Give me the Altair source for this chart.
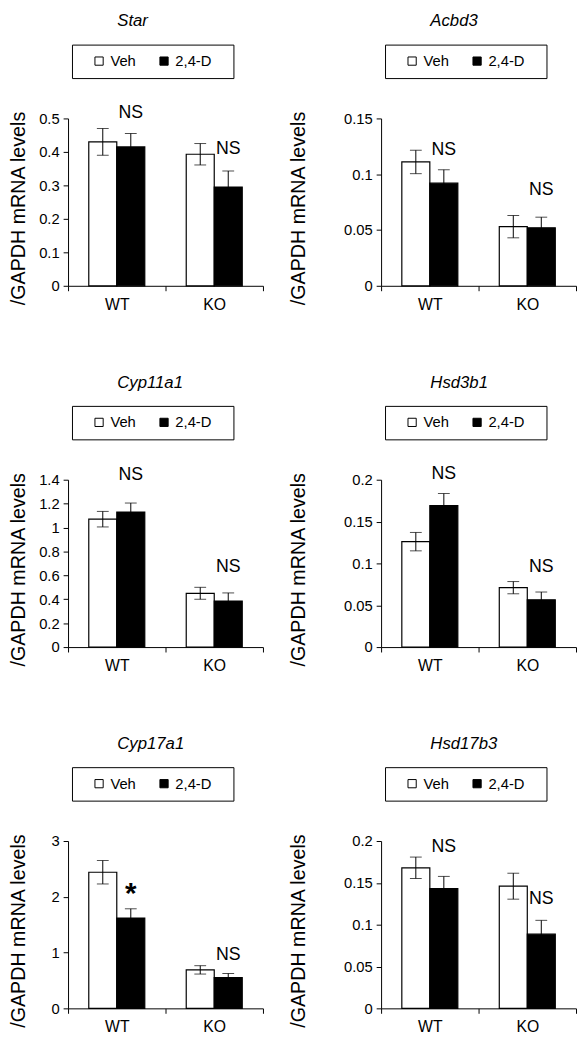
import altair as alt
import pandas as pd

FONT = "Liberation Sans"

genes = ["Star", "Acbd3", "Cyp11a1", "Hsd3b1", "Cyp17a1", "Hsd17b3"]
groups = ["WT", "KO"]
treatments = ["Veh", "2,4-D"]

# order of values: WT Veh, WT 2,4-D, KO Veh, KO 2,4-D
star_mean = [0.430, 0.415, 0.393, 0.295]
star_err = [0.040, 0.040, 0.032, 0.048]
acbd3_mean = [0.111, 0.092, 0.053, 0.052]
acbd3_err = [0.0105, 0.012, 0.010, 0.0095]
cyp11a1_mean = [1.07, 1.13, 0.45, 0.385]
cyp11a1_err = [0.065, 0.075, 0.050, 0.068]
hsd3b1_mean = [0.126, 0.169, 0.071, 0.0565]
hsd3b1_err = [0.011, 0.0145, 0.0073, 0.0093]
cyp17a1_mean = [2.44, 1.62, 0.69, 0.55]
cyp17a1_err = [0.21, 0.165, 0.075, 0.075]
hsd17b3_mean = [0.168, 0.143, 0.146, 0.0887]
hsd17b3_err = [0.0128, 0.0147, 0.0155, 0.0165]

means = [star_mean, acbd3_mean, cyp11a1_mean, hsd3b1_mean, cyp17a1_mean, hsd17b3_mean]
errs = [star_err, acbd3_err, cyp11a1_err, hsd3b1_err, cyp17a1_err, hsd17b3_err]

y_max = [0.5, 0.15, 1.4, 0.2, 3, 0.2]
y_ticks = [
    [0, 0.1, 0.2, 0.3, 0.4, 0.5],
    [0, 0.05, 0.1, 0.15],
    [0, 0.2, 0.4, 0.6, 0.8, 1.0, 1.2, 1.4],
    [0, 0.05, 0.1, 0.15, 0.2],
    [0, 1, 2, 3],
    [0, 0.05, 0.1, 0.15, 0.2],
]

# significance labels over the 2,4-D bar of WT and KO, and their vertical position (data units)
sig_text = [["NS", "NS"], ["NS", "NS"], ["NS", "NS"], ["NS", "NS"], ["*", "NS"], ["NS", "NS"]]
sig_y = [[0.517, 0.408], [0.122, 0.086], [1.44, 0.67], [0.207, 0.096], [2.05, 0.96], [0.193, 0.131]]

PW, PH = 198, 170


def panel(i, col):
    rows = []
    k = 0
    for g in groups:
        for t in treatments:
            m, e = means[i][k], errs[i][k]
            rows.append({"group": g, "treatment": t, "mean": m, "lo": m - e, "hi": m + e})
            k += 1
    df = pd.DataFrame(rows)
    sig = pd.DataFrame({
        "group": groups,
        "treatment": ["2,4-D", "2,4-D"],
        "label": sig_text[i],
        "ypos": sig_y[i],
    })

    x = alt.X(
        "group:N",
        sort=groups,
        scale=alt.Scale(domain=groups, paddingInner=0, paddingOuter=0),
        axis=alt.Axis(
            title=None, tickBand="extent", labelAngle=0, labelFontSize=16,
            labelFont=FONT, labelColor="black", labelPadding=6, tickSize=5,
            tickColor="black", domainColor="black", grid=False,
        ),
    )
    xo = alt.XOffset(
        "treatment:N", sort=treatments,
        scale=alt.Scale(domain=treatments, paddingInner=0, paddingOuter=0.74),
    )
    yscale = alt.Scale(domain=[0, y_max[i]], nice=False, zero=True)
    yaxis = alt.Axis(
        values=y_ticks[i], format=".2~f", title="/GAPDH mRNA levels",
        titleFont=FONT, titleFontSize=20, titleFontWeight="normal", titleColor="black",
        titleAngle=270, titleBaseline="middle", titleAlign="center",
        titleX=-50 if col == 0 else -84, titleY=PH / 2 + 6,
        labelFontSize=15, labelFont=FONT, labelColor="black", labelPadding=4,
        labelOverlap=False, tickSize=5, tickColor="black", domainColor="black", grid=False,
    )
    leg = alt.Legend(
        title=None, orient="none", legendX=4, legendY=-75, direction="horizontal",
        strokeColor="black", padding=9, symbolType="square", symbolSize=70,
        symbolStrokeColor="black", symbolStrokeWidth=1, symbolOffset=11,
        labelOffset=4, columnPadding=10, labelFontSize=15, labelFont=FONT,
        labelColor="black",
        labelExpr="datum.label == '2,4-D' ? datum.label + '\u00a0\u00a0\u00a0\u200c' : datum.label",
    )
    fill = alt.Fill(
        "treatment:N",
        scale=alt.Scale(domain=treatments, range=["white", "black"]),
        legend=leg,
    )
    base = alt.Chart(df)
    bars = base.mark_bar(stroke="black", strokeWidth=1.2).encode(
        x=x, xOffset=xo, y=alt.Y("mean:Q", scale=yscale, axis=yaxis), fill=fill)
    rule = base.mark_rule(color="black", strokeWidth=1).encode(
        x=x, xOffset=xo, y=alt.Y("lo:Q", scale=yscale, axis=yaxis), y2="hi:Q")
    cap_hi = base.mark_tick(color="black", orient="horizontal", size=12, thickness=1).encode(
        x=x, xOffset=xo, y=alt.Y("hi:Q", scale=yscale, axis=yaxis))
    cap_lo = base.mark_tick(color="black", orient="horizontal", size=12, thickness=1).encode(
        x=x, xOffset=xo, y=alt.Y("lo:Q", scale=yscale, axis=yaxis))
    sbase = alt.Chart(sig)
    ns = sbase.transform_filter("datum.label == 'NS'").mark_text(
        fontSize=18, font=FONT, color="black", baseline="middle").encode(
        x=x, xOffset=xo, y=alt.Y("ypos:Q", scale=yscale, axis=yaxis), text="label:N")
    star = sbase.transform_filter("datum.label == '*'").mark_text(
        fontSize=30, font=FONT, fontWeight="bold", color="black", baseline="middle").encode(
        x=x, xOffset=xo, y=alt.Y("ypos:Q", scale=yscale, axis=yaxis), text="label:N")
    layered = alt.layer(bars, rule, cap_hi, cap_lo, ns, star).properties(
        width=PW, height=PH,
        title=alt.TitleParams(
            text=genes[i], anchor="start", frame="group", dx=50, offset=14,
            fontStyle="italic", fontSize=17, font=FONT, fontWeight="normal", color="black",
        ),
    )
    return layered


def row(a, b):
    return alt.hconcat(panel(a, 0), panel(b, 1), spacing=25).resolve_scale(
        fill="independent", color="independent").resolve_legend(
        fill="independent", color="independent")


chart = alt.vconcat(row(0, 1), row(2, 3), row(4, 5), spacing=62).resolve_scale(
    fill="independent", color="independent").resolve_legend(
    fill="independent", color="independent").properties(
    padding={"top": -4, "left": 0, "right": 0, "bottom": 0}).configure(
    font=FONT).configure_view(stroke=None)

chart.save("out.html", embed_options={"renderer": "svg", "actions": False})
